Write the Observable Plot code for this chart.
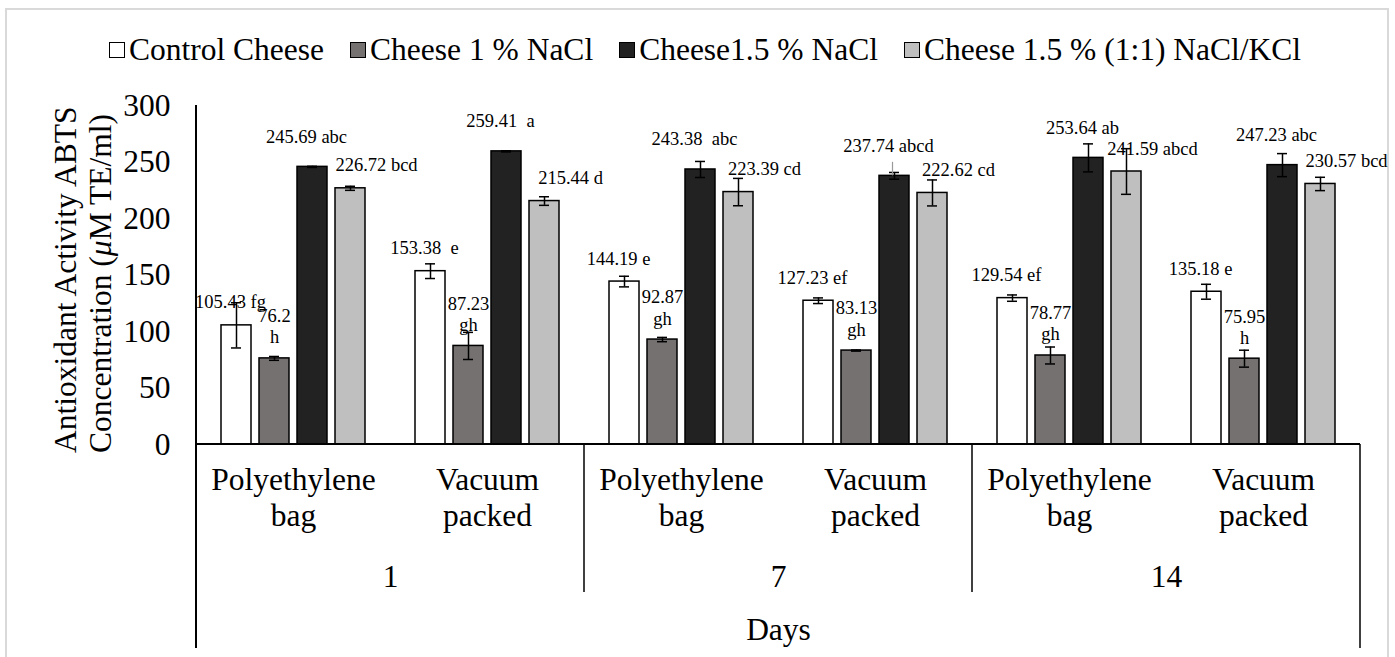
<!DOCTYPE html>
<html>
<head>
<meta charset="utf-8">
<script src="https://cdn.jsdelivr.net/npm/d3@7"></script>
<script src="https://cdn.jsdelivr.net/npm/@observablehq/plot@0.6"></script>
<style>
  html, body { margin: 0; padding: 0; width: 1395px; height: 657px; overflow: hidden; background: #fff;
    font-family: "Liberation Serif", "Times New Roman", serif; }
  #frame { position: absolute; left: 5px; top: 8px; width: 1384px; height: 700px; border: 2px solid #d9d9d9; box-sizing: border-box; }
  #legend { position: absolute; top: 32px; left: 0; width: 1395px; padding-left: 15px; box-sizing: border-box;
    display: flex; justify-content: center; align-items: center; gap: 26px; font-size: 31.5px; line-height: 36px; color: #000; white-space: pre; }
  #legend .item { display: flex; align-items: center; }
  #legend .box { display: inline-block; width: 16px; height: 16px; border: 1.5px solid #000; box-sizing: border-box; margin-right: 4px; }
  #chart { position: absolute; left: 0; top: 70px; }
  #chart text { white-space: pre; }
</style>
</head>
<body>
<div id="frame"></div>
<div id="legend"></div>
<div id="chart"></div>
<script>
// ---- data ----
const days = ["1", "7", "14"];
const packagings = ["Polyethylene bag", "Vacuum packed"];
const seriesNames = ["Control Cheese", "Cheese 1 % NaCl", "Cheese1.5 % NaCl", "Cheese 1.5 % (1:1) NaCl/KCl"];
const seriesColors = ["#ffffff", "#767171", "#222222", "#bfbfbf"];
const yTicks = [0, 50, 100, 150, 200, 250, 300];

// group order: day1 PE, day1 VP, day7 PE, day7 VP, day14 PE, day14 VP
const controlValues = [105.43, 153.38, 144.19, 127.23, 129.54, 135.18];
const nacl1Values   = [76.2, 87.23, 92.87, 83.13, 78.77, 75.95];
const nacl15Values  = [245.69, 259.41, 243.38, 237.74, 253.64, 247.23];
const kclValues     = [226.72, 215.44, 223.39, 222.62, 241.59, 230.57];

const controlErrors = [20, 6.5, 4.7, 2.5, 2.8, 6.6];
const nacl1Errors   = [1.7, 12, 1.9, 0.5, 7.5, 7.5];
const nacl15Errors  = [0.5, 0.5, 7.1, 3, 12.4, 10.2];
const kclErrors     = [1.8, 3.8, 12.1, 11.5, 20.2, 5.9];

const controlLetters = ["fg", " e", "e", "ef", "ef", "e"];
const nacl1Letters   = ["h", "gh", "gh", "gh", "gh", "h"];
const nacl15Letters  = ["abc", " a", " abc", "abcd", "ab", "abc"];
const kclLetters     = ["bcd", "d", "cd", "cd", "abcd", "bcd"];

// ---- build tables ----
const groupKeys = [];
const groupRows = [];
days.forEach(d => packagings.forEach(p => {
  const key = d + "|" + p;
  groupKeys.push(key);
  groupRows.push({group: key, day: d, pack: p});
}));
const valueSets = [controlValues, nacl1Values, nacl15Values, kclValues];
const errorSets = [controlErrors, nacl1Errors, nacl15Errors, kclErrors];
const letterSets = [controlLetters, nacl1Letters, nacl15Letters, kclLetters];
const rows = [];
groupKeys.forEach((g, gi) => seriesNames.forEach((s, si) => {
  const v = valueSets[si][gi];
  const sep = si === 1 ? "\n" : " ";
  rows.push({group: g, series: s, value: v, err: errorSets[si][gi], label: String(v) + sep + letterSets[si][gi]});
}));
const dayRows = groupRows.filter(r => r.pack === packagings[0]);
// leader line for the 237.74 label (day 7, vacuum packed, 1.5 % NaCl)
const leaderRows = rows.filter(r => r.group === groupKeys[3] && r.series === seriesNames[2]);

// ---- legend ----
const legend = document.getElementById("legend");
seriesNames.forEach((s, i) => {
  const item = document.createElement("div");
  item.className = "item";
  const box = document.createElement("span");
  box.className = "box";
  box.style.background = seriesColors[i];
  item.appendChild(box);
  item.appendChild(document.createTextNode(s));
  legend.appendChild(item);
});

// ---- label style per series (offsets in px) ----
const labelOffsets = [{dx: -6, dy: -17}, {dx: 0, dy: -15}, {dx: -6, dy: -24}, {dx: 26, dy: -17}];
const labelFont = 18.5;
const axisFont = 31.5;

const labelMarks = seriesNames.map((s, i) =>
  Plot.text(rows.filter(r => r.series === s), {
    fx: "group", x: "series", y: "value", text: "label",
    lineAnchor: "bottom", lineHeight: 1.14, fontSize: labelFont,
    dx: labelOffsets[i].dx, dy: labelOffsets[i].dy, fill: "#000"
  })
);

const chart = Plot.plot({
  width: 1395,
  height: 587,
  marginTop: 35,
  marginBottom: 213,
  marginLeft: 196,
  marginRight: 35,
  style: {fontFamily: "'Liberation Serif', 'Times New Roman', serif", fontSize: axisFont + "px", background: "transparent", overflow: "visible", color: "#000"},
  fx: {domain: groupKeys, padding: 0, axis: null, label: null},
  x: {domain: seriesNames, paddingInner: 0.205, paddingOuter: 0.598, axis: null},
  y: {domain: [0, 300], ticks: yTicks, tickSize: 0, tickPadding: 26, label: null, tickFormat: d => String(d)},
  color: {domain: seriesNames, range: seriesColors},
  marks: [
    Plot.barY(rows, {fx: "group", x: "series", y: "value", fill: "series", stroke: "#000", strokeWidth: 1.5}),
    Plot.ruleX(rows, {fx: "group", x: "series", y1: d => d.value - d.err, y2: d => d.value + d.err, stroke: "#000", strokeWidth: 1.5}),
    Plot.tickY(rows, {fx: "group", x: "series", y: d => d.value - d.err, stroke: "#000", strokeWidth: 1.5, insetLeft: 10, insetRight: 10}),
    Plot.tickY(rows, {fx: "group", x: "series", y: d => d.value + d.err, stroke: "#000", strokeWidth: 1.5, insetLeft: 10, insetRight: 10}),
    Plot.ruleX(leaderRows, {fx: "group", x: "series", y1: d => d.value, y2: d => d.value + 12, stroke: "#999", strokeWidth: 1.2, dx: -2}),
    ...labelMarks,
    Plot.text(groupRows, {fx: "group", text: d => d.pack.replace(" ", "\n"), frameAnchor: "bottom", dy: 81, lineHeight: 1.14, fontSize: axisFont, fill: "#000"}),
    Plot.text(dayRows, {fx: "group", text: "day", frameAnchor: "bottom-right", textAnchor: "middle", dy: 142, fontSize: axisFont, fill: "#000"}),
    Plot.text(["Days"], {fx: () => groupKeys[2], text: d => d, frameAnchor: "bottom-right", textAnchor: "middle", dy: 195, fontSize: axisFont, fill: "#000"})
  ]
});
document.getElementById("chart").appendChild(chart);

// ---- axis structure lines & y title ----
const fxS = chart.scale("fx");
const yS = chart.scale("y");
const left = fxS.apply(groupKeys[0]);
const right = fxS.apply(groupKeys[groupKeys.length - 1]) + fxS.bandwidth;
const y0 = yS.apply(0);
const yTop = yS.apply(300);
const svg = d3.select(chart);
const g = svg.append("g").attr("stroke", "#000").attr("fill", "none");
g.append("line").attr("x1", left).attr("x2", left).attr("y1", yTop).attr("y2", y0 + 204).attr("stroke-width", 2);
g.append("line").attr("x1", left).attr("x2", right).attr("y1", y0).attr("y2", y0).attr("stroke-width", 2);
g.append("line").attr("x1", right).attr("x2", right).attr("y1", y0).attr("y2", y0 + 204).attr("stroke-width", 1.5);
[2, 4].forEach(i => {
  const x = fxS.apply(groupKeys[i]);
  g.append("line").attr("x1", x).attr("x2", x).attr("y1", y0).attr("y2", y0 + 148).attr("stroke-width", 1.5);
});

const titleY = y0 + 9;
svg.append("text").attr("transform", `translate(76,${titleY}) rotate(-90)`)
  .attr("text-anchor", "start").attr("font-size", axisFont).attr("fill", "#000")
  .text("Antioxidant Activity ABTS");
const t2 = svg.append("text").attr("transform", `translate(111,${titleY}) rotate(-90)`)
  .attr("text-anchor", "start").attr("font-size", axisFont).attr("fill", "#000");
t2.append("tspan").text("Concentration (");
t2.append("tspan").attr("font-style", "italic").text("μ");
t2.append("tspan").text("M TE/ml)");
</script>
</body>
</html>
